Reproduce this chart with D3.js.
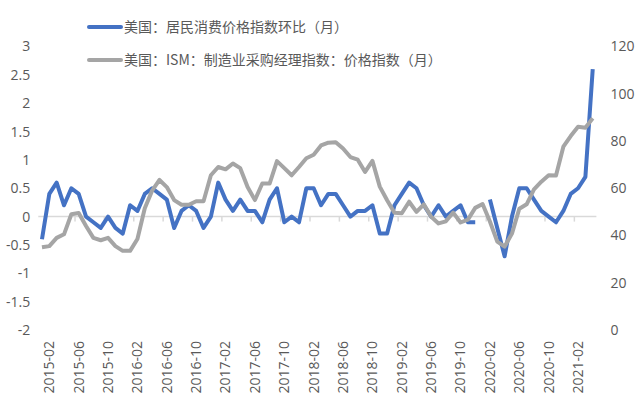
<!DOCTYPE html>
<html>
<head>
<meta charset="utf-8">
<script src="https://cdn.jsdelivr.net/npm/d3@7"></script>
<style>
    body { margin: 0; background: #fff; }
    svg text { fill: #595959; }
</style>
</head>
<body>
<svg id="chart" width="641" height="411"></svg>
<script>
// Series names (legend)
const seriesNames = ["美国：居民消费价格指数环比（月）", "美国：ISM：制造业采购经理指数：价格指数（月）"];

// Monthly categories 2015-01 .. 2021-04
const firstMonth = new Date(2015, 0, 1),
      lastMonth = new Date(2021, 3, 1);

// Labels shown on the horizontal axis
const tickLabels = ["2015-02", "2015-06", "2015-10", "2016-02", "2016-06", "2016-10",
    "2017-02", "2017-06", "2017-10", "2018-02", "2018-06", "2018-10",
    "2019-02", "2019-06", "2019-10", "2020-02", "2020-06", "2020-10", "2021-02"];

// Left axis ticks / right axis ticks
const leftTicks = [-2, -1.5, -1, -0.5, 0, 0.5, 1, 1.5, 2, 2.5, 3];
const rightTicks = [0, 20, 40, 60, 80, 100, 120];

// CPI month-on-month (%), left axis. 2020-01 missing in the source.
const cpiMoM = [
    -0.4, 0.4, 0.6, 0.2, 0.5, 0.4, 0.0, -0.1, -0.2, 0.0, -0.2, -0.3,
    0.2, 0.1, 0.4, 0.5, 0.4, 0.3, -0.2, 0.1, 0.2, 0.1, -0.2, 0.0,
    0.6, 0.3, 0.1, 0.3, 0.1, 0.1, -0.1, 0.3, 0.5, -0.1, 0.0, -0.1,
    0.5, 0.5, 0.2, 0.4, 0.4, 0.2, 0.0, 0.1, 0.1, 0.2, -0.3, -0.3,
    0.2, 0.4, 0.6, 0.5, 0.2, 0.0, 0.2, 0.0, 0.1, 0.2, -0.1, -0.1,
    null, 0.3, -0.2, -0.7, 0.0, 0.5, 0.5, 0.3, 0.1, 0.0, -0.1, 0.1,
    0.4, 0.5, 0.7, 2.6
];

// ISM manufacturing prices index, right axis
const ismPrices = [
    35.0, 35.5, 39.0, 40.5, 49.0, 49.5, 44.0, 39.0, 38.0, 39.0, 35.5, 33.5,
    33.5, 38.5, 51.5, 59.0, 63.5, 60.5, 55.0, 53.0, 53.0, 54.5, 54.5, 65.5,
    69.0, 68.0, 70.5, 68.5, 60.5, 55.0, 62.0, 62.0, 71.5, 68.5, 65.5, 69.0,
    72.7, 74.2, 78.1, 79.3, 79.5, 76.8, 73.2, 72.1, 66.9, 71.6, 60.7, 54.9,
    49.6, 49.4, 54.3, 50.0, 53.2, 47.9, 45.1, 46.0, 49.7, 45.5, 46.7, 51.7,
    53.3, 45.9, 37.4, 35.3, 40.8, 51.3, 53.2, 59.5, 62.8, 65.5, 65.4, 77.6,
    82.1, 86.0, 85.6, 89.6
];

const seriesColors = ["#4472C4", "#A5A5A5"];

// Plot area
const plotLeft = 38.3, plotRight = 596.4, plotTop = 46.5, plotBottom = 330;
const font = "'Open Sans', 'Noto Sans', sans-serif",
      cjkFont = "'Noto Sans CJK SC', 'Noto Sans', sans-serif";

var months = d3.timeMonth.range(firstMonth, d3.timeMonth.offset(lastMonth, 1))
                .map(d3.timeFormat("%Y-%m"));

var svg = d3.select("#chart");

var x = d3.scaleBand().domain(months).range([plotLeft, plotRight]).padding(0);
var yLeft = d3.scaleLinear().domain([-2, 3]).range([plotBottom, plotTop]);
var yRight = d3.scaleLinear().domain([0, 120]).range([plotBottom, plotTop]);

function cx(m) { return x(m) + x.bandwidth() / 2; }

drawAxes();
drawSeries();
drawLegend();

/**
 * Left / right value axes and the category axis sitting on zero
 */
function drawAxes() {
    var left = svg.append("g")
        .attr("transform", "translate(" + plotLeft + ",0)")
        .call(d3.axisLeft(yLeft).tickValues(leftTicks).tickSize(0).tickPadding(8)
                .tickFormat(function (d) { return String(d); }));
    left.select(".domain").remove();

    var right = svg.append("g")
        .attr("transform", "translate(" + plotRight + ",0)")
        .call(d3.axisRight(yRight).tickValues(rightTicks).tickSize(0).tickPadding(14));
    right.select(".domain").remove();

    svg.selectAll(".tick text")
        .style("font-family", font)
        .style("font-size", "14px")
        .attr("fill", "#595959");

    // category axis line at 0
    var y0 = yLeft(0);
    svg.append("line")
        .attr("x1", plotLeft).attr("x2", plotRight)
        .attr("y1", y0).attr("y2", y0)
        .style("stroke", "#D9D9D9")
        .style("stroke-width", 1.5);

    // tick marks on the category boundaries
    svg.append("g").selectAll("line")
        .data(tickLabels)
        .enter().append("line")
        .attr("x1", function (d) { return x(d); })
        .attr("x2", function (d) { return x(d); })
        .attr("y1", y0).attr("y2", y0 + 5)
        .style("stroke", "#D9D9D9")
        .style("stroke-width", 1.5);

    // rotated labels at the bottom
    svg.append("g").selectAll("text")
        .data(tickLabels)
        .enter().append("text")
        .attr("transform", function (d) { return "translate(" + cx(d) + "," + 341 + ") rotate(-90)"; })
        .attr("text-anchor", "end")
        .attr("dy", "0.35em")
        .style("font-family", font)
        .style("font-size", "14px")
        .text(function (d) { return d; });
}

/**
 * The two lines, grey one (secondary axis) drawn on top
 */
function drawSeries() {
    var cpiLine = d3.line()
        .defined(function (d) { return d != null; })
        .x(function (d, i) { return cx(months[i]); })
        .y(function (d) { return yLeft(d); });

    var ismLine = d3.line()
        .x(function (d, i) { return cx(months[i]); })
        .y(function (d) { return yRight(d); });

    svg.append("path")
        .datum(cpiMoM)
        .attr("d", cpiLine)
        .style("fill", "none")
        .style("stroke", seriesColors[0])
        .style("stroke-width", 4)
        .style("stroke-linejoin", "round");

    svg.append("path")
        .datum(ismPrices)
        .attr("d", ismLine)
        .style("fill", "none")
        .style("stroke", seriesColors[1])
        .style("stroke-width", 4)
        .style("stroke-linejoin", "round");
}

/**
 * Legend, top left
 */
function drawLegend() {
    var legend = svg.append("g").selectAll("g")
        .data(seriesNames)
        .enter().append("g")
        .attr("transform", function (d, i) { return "translate(89," + (27 + i * 33) + ")"; });

    legend.append("line")
        .attr("x1", 0).attr("x2", 32)
        .style("stroke", function (d, i) { return seriesColors[i]; })
        .style("stroke-width", 4)
        .style("stroke-linecap", "round");

    legend.append("text")
        .attr("x", 35)
        .attr("dy", "0.35em")
        .style("font-family", cjkFont)
        .style("font-size", "14px")
        .text(function (d) { return d; });
}
</script>
</body>
</html>
